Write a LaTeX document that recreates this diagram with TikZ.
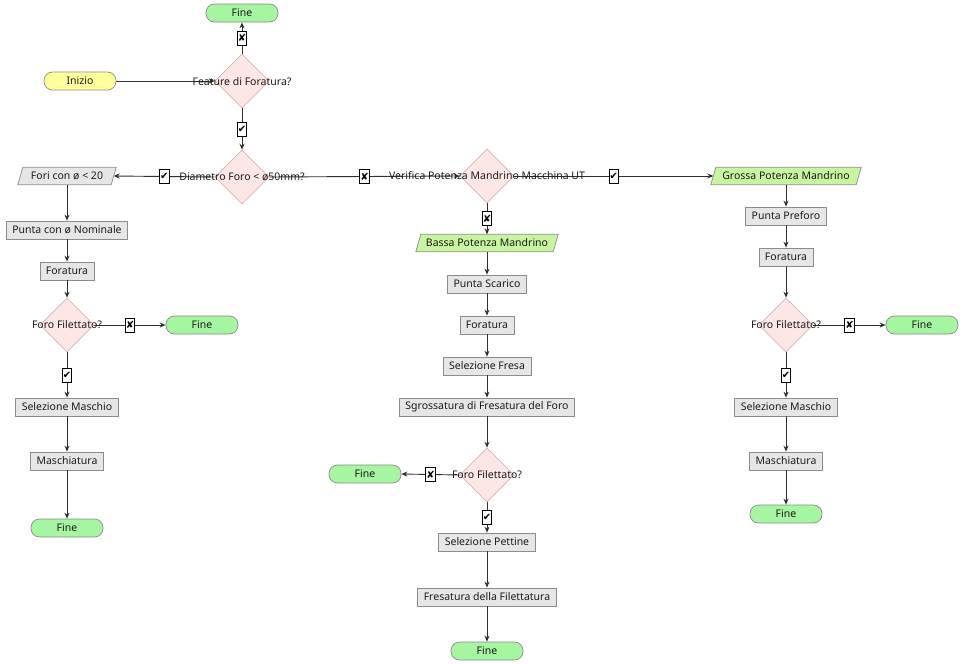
\documentclass[tikz,border=0pt]{standalone}
\usepackage{fontspec}
\setmainfont{Noto Sans}
\newfontfamily\symfont{DejaVu Sans}
\usetikzlibrary{shapes.geometric,arrows.meta,backgrounds}
\definecolor{lineC}{HTML}{303030}
\definecolor{termG}{HTML}{A6F5A0}
\definecolor{termY}{HTML}{FFFF9C}
\definecolor{paraG}{HTML}{C8F5A0}
\definecolor{boxG}{HTML}{E6E6E6}
\definecolor{bordG}{HTML}{8C8C8C}
\definecolor{diaF}{HTML}{FDE6E6}
\definecolor{diaB}{HTML}{DDB3B3}
\definecolor{txtC}{HTML}{1E1A1A}
\tikzset{
  every node/.style={font=\fontsize{10.5}{12}\selectfont, text=txtC},
  term/.style={rectangle, rounded corners=8.5pt, draw=bordG, line width=0.7pt, minimum width=72pt, minimum height=18pt, inner sep=0pt},
  procbox/.style={rectangle, draw=bordG, fill=boxG, line width=0.7pt, minimum height=18pt, inner xsep=6pt, inner ysep=0pt},
  parabox/.style={rectangle, minimum height=17pt, inner sep=0pt},
  dia/.style={diamond, aspect=1, draw=diaB, fill=diaF, line width=0.6pt, minimum width=54pt, minimum height=54pt, inner sep=0pt},
  lab/.style={rectangle, draw=black, fill=white, line width=0.7pt, inner sep=0.5pt, minimum width=9pt, minimum height=14pt, font=\symfont\bfseries\fontsize{10}{11}\selectfont, text=black},
  conn/.style={draw=lineC, line width=0.9pt, -{Stealth[length=6pt,width=5pt]}},
}
\newcommand{\drawpara}[2]{%
  \begin{scope}[on background layer]
  \draw[draw=bordG, fill=#2, line width=0.7pt]
    ([xshift=-2.5pt]#1.south west) -- ([xshift=-2.5pt]#1.south east) --
    ([xshift=2.5pt]#1.north east) -- ([xshift=2.5pt]#1.north west) -- cycle;
  \end{scope}}
\begin{document}
\begin{tikzpicture}[x=1pt, y=-1pt]
\useasboundingbox (0,0) rectangle (962,664);
% top column
\node[term, fill=termG] (fine0) at (242,13) {Fine};
\node[dia] (feat) at (242,81) {};
\node (feattxt) at (242,82) {Feature di Foratura?};
\node[term, fill=termY] (inizio) at (80,81) {Inizio};
\node[dia] (diam) at (242,177) {};
\node (diamtxt) at (242,177) {Diametro Foro < ø50mm?};
\node[dia] (verif) at (487,176) {};
\node (veriftxt) at (487,176) {Verifica Potenza Mandrino Macchina UT};
% parallelograms
\node[parabox, minimum width=93pt] (fori) at (67,176) {Fori con ø < 20};
\drawpara{fori}{boxG}
\node[parabox, minimum width=145pt] (grossa) at (786,176) {Grossa Potenza Mandrino};
\drawpara{grossa}{paraG}
\node[parabox, minimum width=137pt] (bassa) at (487,243) {Bassa Potenza Mandrino};
\drawpara{bassa}{paraG}
% middle column
\node[procbox] (pscar) at (487,284) {Punta Scarico};
\node[procbox] (for2) at (487,325) {Foratura};
\node[procbox] (selfresa) at (487,366) {Selezione Fresa};
\node[procbox] (sgross) at (487,407) {Sgrossatura di Fresatura del Foro};
\node[dia] (ff2) at (487,475) {};
\node (ff2txt) at (487,475) {Foro Filettato?};
\node[term, fill=termG] (fine2) at (365,474) {Fine};
\node[procbox] (selpett) at (487,542) {Selezione Pettine};
\node[procbox] (fresfil) at (487,597) {Fresatura della Filettatura};
\node[term, fill=termG] (fine3) at (487,651) {Fine};
% left column
\node[procbox] (puntanom) at (67,230) {Punta con ø Nominale};
\node[procbox] (for1) at (67,271) {Foratura};
\node[dia] (ff1) at (67,325) {};
\node (ff1txt) at (67,325) {Foro Filettato?};
\node[term, fill=termG] (fine1) at (202,325) {Fine};
\node[procbox] (selm1) at (67,407) {Selezione Maschio};
\node[procbox] (masch1) at (67,461) {Maschiatura};
\node[term, fill=termG] (fine4) at (67,528) {Fine};
% right column
\node[procbox] (ppref) at (786,216) {Punta Preforo};
\node[procbox] (for3) at (786,257) {Foratura};
\node[dia] (ff3) at (786,325) {};
\node (ff3txt) at (786,325) {Foro Filettato?};
\node[term, fill=termG] (fine5) at (922,325) {Fine};
\node[procbox] (selm3) at (786,407) {Selezione Maschio};
\node[procbox] (masch3) at (786,461) {Maschiatura};
\node[term, fill=termG] (fine6) at (786,514) {Fine};
% connectors
\begin{scope}[on background layer]
\draw[conn] (inizio.east) -- (feat.west);
\draw[conn] (diam.west) -- (fori.east);
\draw[conn] (diam.east) -- (verif.west);
\draw[conn] (verif.east) -- (grossa.west);
\draw[conn] (ff2.west) -- (fine2.east);
\draw[conn] (ff1.east) -- (fine1.west);
\draw[conn] (ff3.east) -- (fine5.west);
\end{scope}
\draw[conn] (feat.north) -- node[lab] (l1) {✘} (fine0.south);
\draw[conn] (feat.south) -- node[lab] (l2) {✔} (diam.north);
\path (diam.west) -- node[lab] (l3) {✔} (fori.east);
\path (diam.east) -- node[lab] (l4) {✘} (verif.west);
\path (verif.east) -- node[lab] (l5) {✔} (grossa.west);
\draw[conn] (verif.south) -- node[lab] (l6) {✘} (bassa.north);
\draw[conn] (bassa) -- (pscar);
\draw[conn] (pscar) -- (for2);
\draw[conn] (for2) -- (selfresa);
\draw[conn] (selfresa) -- (sgross);
\draw[conn] (sgross) -- (ff2.north);
\path (ff2.west) -- node[lab] (l7) {✘} (fine2.east);
\draw[conn] (ff2.south) -- node[lab] (l8) {✔} (selpett.north);
\draw[conn] (selpett) -- (fresfil);
\draw[conn] (fresfil) -- (fine3);
\draw[conn] (fori) -- (puntanom);
\draw[conn] (puntanom) -- (for1);
\draw[conn] (for1) -- (ff1.north);
\path (ff1.east) -- node[lab] (l9) {✘} (fine1.west);
\draw[conn] (ff1.south) -- node[lab] (l10) {✔} (selm1.north);
\draw[conn] (selm1) -- (masch1);
\draw[conn] (masch1) -- (fine4);
\draw[conn] (grossa) -- (ppref);
\draw[conn] (ppref) -- (for3);
\draw[conn] (for3) -- (ff3.north);
\path (ff3.east) -- node[lab] (l11) {✘} (fine5.west);
\draw[conn] (ff3.south) -- node[lab] (l12) {✔} (selm3.north);
\draw[conn] (selm3) -- (masch3);
\draw[conn] (masch3) -- (fine6);
\end{tikzpicture}
\end{document}
